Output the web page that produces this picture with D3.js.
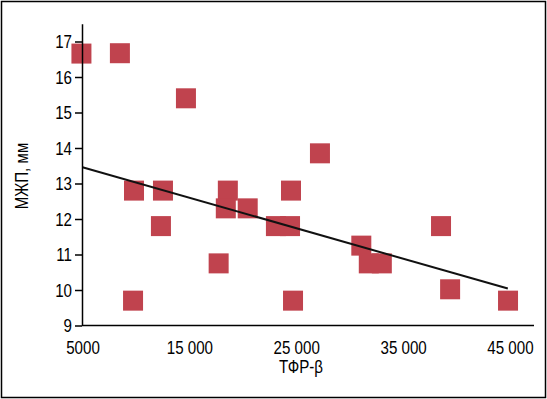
<!DOCTYPE html>
<html>
<head>
<meta charset="utf-8">
<script src="https://cdn.jsdelivr.net/npm/d3@7"></script>
<style>
  body { margin: 0; background: #fff; }
  svg text { font-family: "Liberation Sans", Arial, sans-serif; fill: #000; }
</style>
</head>
<body>
<svg width="547" height="399"></svg>
<script>
// ТФР-β values (x) and МЖП, мм (y)
const tfr = [4900, 8500, 14680, 9820, 12530, 12340, 9730, 17740, 18600, 18410,
             20460, 23100, 24420, 24510, 24700, 27220, 31090, 31790, 33010, 38550,
             39400, 44820];
const mzhp = [16.66, 16.67, 15.4, 12.8, 12.8, 11.8, 9.7, 10.75, 12.8, 12.3,
              12.3, 11.8, 11.8, 12.8, 9.7, 13.85, 11.25, 10.75, 10.75, 11.8,
              10.02, 9.7];
// trend line ends
const trendX = [5000, 44800];
const trendY = [13.46, 10.04];

const xTicks = [5000, 15000, 25000, 35000, 45000];
const xTickLabels = ["5000", "15 000", "25 000", "35 000", "45 000"];
const yTicks = [9, 10, 11, 12, 13, 14, 15, 16, 17];

const svg = d3.select("svg");
const W = 547, H = 399;

// squeeze text horizontally, the original uses a narrow face
function narrow(sel, k) {
  sel.each(function () {
    const len = this.getComputedTextLength();
    d3.select(this).attr("textLength", len * k).attr("lengthAdjust", "spacingAndGlyphs");
  });
}

// frame
svg.append("rect")
  .attr("x", 1.5).attr("y", 1.5)
  .attr("width", W - 3).attr("height", H - 3)
  .attr("fill", "none").attr("stroke", "#000").attr("stroke-width", 1.5);

const x = d3.scaleLinear().domain([5000, 47250]).range([82.5, 534]);
const y = d3.scaleLinear().domain([9, 17.5]).range([325.5, 23.75]);

// points
const sq = 20;
svg.append("g")
  .selectAll("rect")
  .data(tfr.map((d, i) => [d, mzhp[i]]))
  .join("rect")
  .attr("x", d => x(d[0]) - sq / 2)
  .attr("y", d => y(d[1]) - sq / 2)
  .attr("width", sq).attr("height", sq)
  .attr("fill", "#c0434e");

// trend line
svg.append("path")
  .datum(trendX.map((d, i) => [d, trendY[i]]))
  .attr("fill", "none")
  .attr("stroke", "#111")
  .attr("stroke-width", 2)
  .attr("d", d3.line().x(d => x(d[0])).y(d => y(d[1])));

// axes
const yAxis = svg.append("g")
  .attr("transform", `translate(${x(5000) - 0.5},0)`)
  .call(d3.axisLeft(y).tickValues(yTicks).tickSize(7).tickPadding(3).tickSizeOuter(0));

const xAxis = svg.append("g")
  .attr("transform", `translate(0,${y(9)})`)
  .call(d3.axisBottom(x).tickValues(xTicks).tickSize(0).tickPadding(16)
    .tickFormat((d, i) => xTickLabels[i]).tickSizeOuter(0));

[yAxis, xAxis].forEach(g => {
  g.selectAll("path, line").attr("stroke", "#000").attr("stroke-width", 1.5);
  g.selectAll("text").attr("font-size", 18).attr("fill", "#000")
    .attr("font-family", null);
  narrow(g.selectAll("text"), 0.84);
});
yAxis.selectAll("text").attr("dy", "0.36em");
xAxis.select(".domain").attr("d", `M${x(5000) - 0.5},0H${x(47250)}`);

// axis titles
svg.append("text")
  .attr("x", 301).attr("y", 373)
  .attr("text-anchor", "middle")
  .attr("font-size", 18)
  .text("ТФР-β")
  .call(narrow, 0.84);

svg.append("text")
  .attr("transform", "translate(28,176) rotate(-90)")
  .attr("text-anchor", "middle")
  .attr("font-size", 18)
  .text("МЖП, мм")
  .call(narrow, 0.84);
</script>
</body>
</html>
